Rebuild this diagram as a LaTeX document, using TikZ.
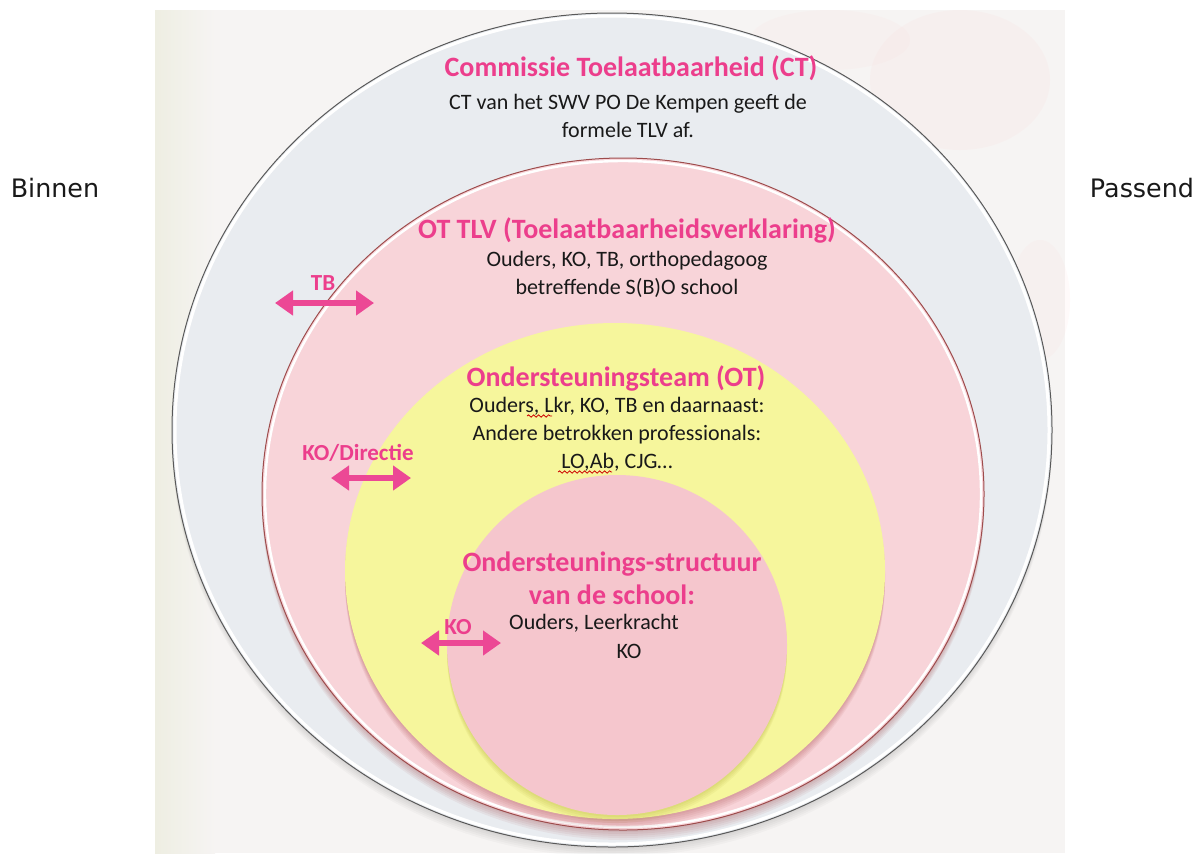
\documentclass[tikz,border=0pt]{standalone}
\usepackage{fontspec}
\setmainfont{Carlito}
\newfontfamily\dejavu{DejaVu Sans}
\usetikzlibrary{arrows.meta,decorations.pathmorphing}
\definecolor{pinktxt}{HTML}{EC3E8C}
\definecolor{pinkarrow}{HTML}{EC4895}
\definecolor{outerfill}{HTML}{E9ECF0}
\definecolor{pinkfill}{HTML}{F8D4D9}
\definecolor{yellowfill}{HTML}{F6F69C}
\definecolor{innerfill}{HTML}{F5C6CD}
\definecolor{bgfill}{HTML}{F6F4F3}
\definecolor{bgleft}{HTML}{EEEEE2}
\tikzset{
  title/.style={font=\bfseries\fontsize{14}{16.5}\selectfont, text=pinktxt, align=center, inner sep=0pt},
  body/.style={font=\fontsize{11}{14}\selectfont, text=black!90, align=center, inner sep=0pt},
  side/.style={font=\dejavu\fontsize{12.7}{15}\selectfont, text=black!90, inner sep=0pt},
  arrlabel/.style={font=\bfseries\fontsize{11.5}{13}\selectfont, text=pinktxt, inner sep=0pt},
  dblarrow/.style={draw=pinkarrow, line width=3pt, {Triangle[length=9pt,width=12pt]}-{Triangle[length=9pt,width=12pt]}},
  wavy/.style={draw=red!80!black, line width=0.4pt, decorate, decoration={snake, amplitude=0.6pt, segment length=2.5pt}}
}
\begin{document}
\begin{tikzpicture}[x=0.5pt,y=-0.5pt]
\useasboundingbox (0,0) rectangle (1197,853);
\fill[white] (0,0) rectangle (1197,853);
% faded background picture
\fill[bgfill] (155,10) rectangle (1065,853);
\shade[left color=bgleft, right color=bgfill] (155,10) rectangle (215,853);
\fill[pink, opacity=0.08] (960,80) ellipse [x radius=90, y radius=70];
\fill[pink, opacity=0.07] (1040,300) ellipse [x radius=30, y radius=60];
\fill[pink, opacity=0.06] (830,40) ellipse [x radius=80, y radius=30];
% outer circle
\foreach \i in {1,...,5} {\fill[black, opacity=0.025] (612,{430+\i*2}) ellipse [x radius=440, y radius=417];}
\fill[outerfill] (612,430) ellipse [x radius=440, y radius=417];
\draw[white, line width=1.5pt] (612,430) ellipse [x radius=437, y radius=414];
\draw[black!65, line width=0.5pt] (612,430) ellipse [x radius=440, y radius=417];
% pink circle
\foreach \i in {1,...,5} {\fill[red!50!black, opacity=0.05] (623,{494+\i*2}) ellipse [x radius=361, y radius=336];}
\fill[pinkfill] (623,494) ellipse [x radius=361, y radius=336];
\draw[white, line width=1.2pt] (623,494) ellipse [x radius=358, y radius=333];
\draw[red!45!black!70, line width=0.5pt] (623,494) ellipse [x radius=361, y radius=336];
% yellow circle
\foreach \i in {1,...,5} {\fill[red!50!black, opacity=0.05] (615,{571+\i*2}) ellipse [x radius=270, y radius=248];}
\fill[yellowfill] (615,571) ellipse [x radius=270, y radius=248];
% inner pink circle
\foreach \i in {1,...,4} {\fill[olive, opacity=0.06] (617,{645+\i*2}) ellipse [x radius=170, y radius=170];}
\fill[innerfill] (617,645) ellipse [x radius=170, y radius=170];
% side texts
\node[side] (binnen) at (55,188) {Binnen};
\node[side] (passend) at (1142,188) {Passend};
% CT
\node[title] (ct) at (631,68) {Commissie Toelaatbaarheid (CT)};
\node[body] (ctb) at (628,116) {CT van het SWV PO De Kempen geeft de\\formele TLV af.};
% OT TLV
\node[title] (ottlv) at (627,230) {OT TLV (Toelaatbaarheidsverklaring)};
\node[body] (ottlvb) at (627,274) {Ouders, KO, TB, orthopedagoog\\betreffende S(B)O school};
% OT
\node[title] (ot) at (616,378) {Ondersteuningsteam (OT)};
\node[body] (otb) at (617,434) {Ouders, Lkr, KO, TB en daarnaast:\\Andere betrokken professionals:\\LO,Ab, CJG\dots};
\draw[wavy] (527,416) -- (552,416);
\draw[wavy] (558,472) -- (612,472);
% inner
\node[title] (school) at (612,578) {Ondersteunings-structuur\\van de school:};
\node[body] (schoolb1) at (594,623) {Ouders, Leerkracht};
\node[body] (schoolb2) at (629,651) {KO};
% arrows
\node[arrlabel] (tb) at (323,283) {TB};
\coordinate (tbL) at (275,303);
\coordinate (tbR) at (374,303);
\draw[dblarrow] (tbL) -- (tbR);
\node[arrlabel] (kodir) at (358,453) {KO/Directie};
\coordinate (kdL) at (331,478);
\coordinate (kdR) at (411,478);
\draw[dblarrow] (kdL) -- (kdR);
\node[arrlabel] (ko) at (458,627) {KO};
\coordinate (koL) at (421,643);
\coordinate (koR) at (501,643);
\draw[dblarrow] (koL) -- (koR);
\end{tikzpicture}
\end{document}
